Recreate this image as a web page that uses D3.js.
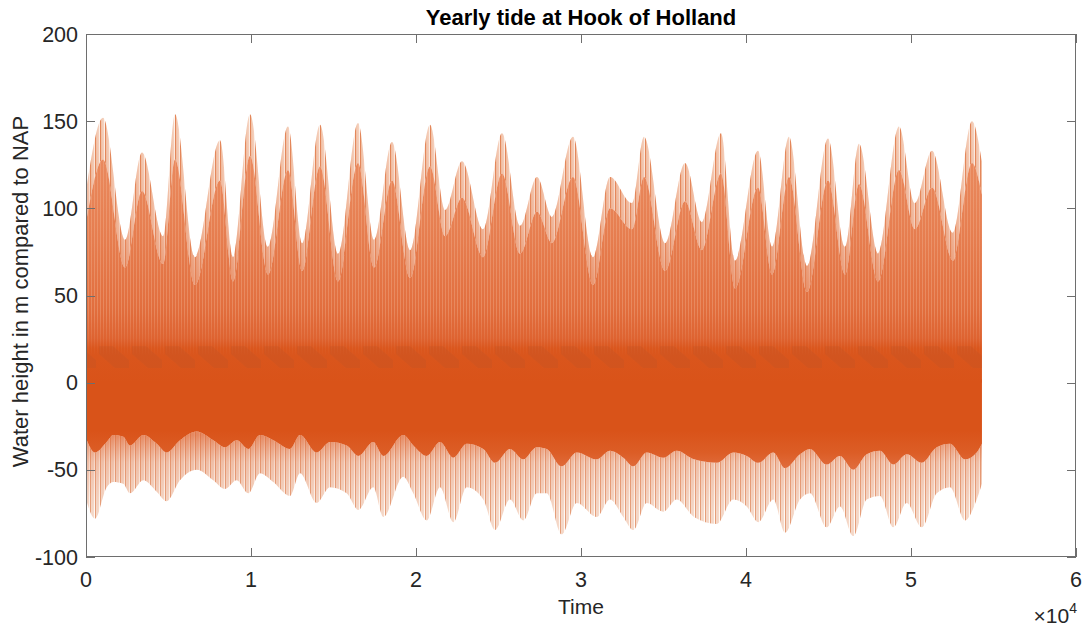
<!DOCTYPE html>
<html>
<head>
<meta charset="utf-8">
<script src="https://cdn.jsdelivr.net/npm/d3@7"></script>
<style>
  html, body { margin: 0; padding: 0; background: #ffffff; }
  svg { display: block; font-family: "Liberation Sans", Arial, Helvetica, sans-serif; }
</style>
</head>
<body>
<svg id="chart" width="1089" height="628"></svg>
<script>
// ---- Data (time in samples, water height) ----
// Upper envelope: spike tips (outer) and top of the dense fill (inner), at local extremes
const upT = [0, 1030, 2364, 3394, 4667, 5394, 6606, 8121, 8909, 9939, 11030, 12242, 13091, 14182, 15273, 16485, 17455, 18545, 19636, 20848, 21758, 22788, 24061, 25212, 26303, 27333, 28242, 29515, 30727, 31758, 33091, 33818, 35091, 36303, 37333, 38485, 39333, 40727, 41576, 42606, 43697, 44970, 46000, 46848, 48000, 49273, 50242, 51273, 52545, 53697, 54300];
const upOuter = [110, 152, 82, 132, 84, 154, 72, 139, 72, 154, 78, 147, 80, 148, 74, 149, 82, 138, 76, 148, 99, 127, 88, 143, 90, 118, 95, 141, 72, 118, 103, 141, 80, 126, 92, 143, 70, 133, 78, 141, 67, 140, 78, 137, 74, 147, 103, 133, 86, 150, 127];
const upInner = [92, 128, 66, 110, 68, 128, 56, 116, 58, 130, 62, 122, 64, 124, 58, 126, 66, 116, 60, 124, 84, 106, 72, 120, 74, 98, 80, 118, 56, 100, 88, 118, 64, 104, 76, 120, 54, 112, 62, 118, 52, 116, 62, 114, 58, 122, 88, 112, 70, 126, 108];

// Lower envelope: spike tips (outer) and bottom of the solid core (inner)
const lowT = [0, 545, 1255, 1655, 2260, 2667, 3473, 4285, 4891, 5697, 6709, 7715, 8424, 9133, 9836, 10545, 11352, 12364, 12970, 13982, 14788, 15800, 16503, 17412, 18018, 19230, 19836, 20648, 21455, 22261, 23073, 24079, 24788, 25697, 26503, 27315, 27921, 28830, 29739, 30952, 31758, 32564, 33170, 33982, 34988, 35800, 36848, 38224, 39230, 40042, 40745, 41655, 42364, 43273, 43879, 44891, 45697, 46503, 47315, 48121, 48927, 49739, 50648, 51558, 52364, 53273, 53982, 54300];
const lowOuter = [-67, -78, -60, -57, -58, -63.5, -56, -62.5, -68, -56, -50, -56, -61, -56, -63.5, -52, -57, -65, -52, -69, -60, -63.5, -73, -60, -77, -54, -63.5, -79, -60, -80, -60, -67, -84.5, -67, -79, -63.5, -63.5, -87, -69, -77, -67, -77, -84.5, -69, -74, -67, -77, -81, -67, -71, -80, -67, -86, -67, -63.5, -83, -71, -88, -67, -65, -83, -69, -83, -63.5, -60, -79, -67, -58];
const lowInner = [-32, -40, -34, -30, -31, -36, -30, -35, -40, -33, -28, -33, -37, -33, -38, -30, -33, -38, -30, -40, -34, -36, -42, -34, -42, -30, -36, -42, -34, -43, -35, -38, -46, -38, -44, -37, -38, -48, -40, -44, -39, -43, -48, -40, -43, -39, -44, -46, -40, -42, -46, -40, -49, -41, -38, -47, -42, -50, -41, -39, -47, -41, -46, -37, -35, -44, -40, -35];

// Axis ticks and labels
const xTicks = [0, 10000, 20000, 30000, 40000, 50000, 60000];
const xTickLabels = ["0", "1", "2", "3", "4", "5", "6"];
const yTicks = [-100, -50, 0, 50, 100, 150, 200];
const titleText = "Yearly tide at Hook of Holland";
const xLabelText = "Time";
const yLabelText = "Water height in m compared to NAP";

// ---- Drawing ----
const svg = d3.select("#chart");
const W = 1089, H = 628;
const L = 86, R = 1076, T = 34, B = 557;
const x = d3.scaleLinear().domain([0, 60000]).range([L, R]);
const y = d3.scaleLinear().domain([-100, 200]).range([B, T]);

svg.append("rect").attr("width", W).attr("height", H).attr("fill", "#ffffff");

const defs = svg.append("defs");
defs.append("clipPath").attr("id", "plotClip")
  .append("rect").attr("x", L).attr("y", T).attr("width", R - L).attr("height", B - T);

function stripePattern(id, width, stripes) {
  const p = defs.append("pattern").attr("id", id)
    .attr("patternUnits", "userSpaceOnUse").attr("width", width).attr("height", 8);
  stripes.forEach(([sx, sw, c, op]) => p.append("rect").attr("x", sx).attr("y", 0)
    .attr("width", sw).attr("height", 8).attr("fill", c).attr("opacity", op == null ? 1 : op));
}
// stripes for the upper spike band (white gaps between thin lines)
stripePattern("upSpikes", 5, [[0, 1, "#e3865a"], [1, 1, "#f2c5aa"], [2.5, 1, "#e89a72"], [3.5, 0.8, "#f6d6c3"]]);
// stripes for the lower spike band (paler)
stripePattern("lowSpikes", 5, [[0, 1, "#e59e7a"], [1, 0.8, "#f3d0bb"], [2.5, 1, "#e9ad8d"], [3.5, 0.7, "#f7ddcd"]]);
// light striations over the upper dense fill
stripePattern("striae", 3, [[1, 1, "#f7c2a4", 0.32]]);

// dark diagonal streaks in the core
const pStreak = defs.append("pattern").attr("id", "streaks")
  .attr("patternUnits", "userSpaceOnUse").attr("width", 33).attr("height", 40)
  .attr("y", y(21));
pStreak.append("polygon").attr("points", "0,0 14,0 30,14 30,22 16,22 0,8").attr("fill", "#b8532b").attr("opacity", 0.22);

function vGrad(id, vFrom, vTo, stops) {
  const g = defs.append("linearGradient").attr("id", id)
    .attr("gradientUnits", "userSpaceOnUse")
    .attr("x1", 0).attr("x2", 0).attr("y1", y(vFrom)).attr("y2", y(vTo));
  stops.forEach(([o, c, op]) => g.append("stop").attr("offset", o).attr("stop-color", c)
    .attr("stop-opacity", op == null ? 1 : op));
}
// upper dense fill: dark core fading into lighter orange
vGrad("upFill", 0, 150, [[0, "#d95319"], [0.13, "#da561d"], [0.17, "#de6331"], [0.3, "#e26f3f"], [0.55, "#e67d4f"], [0.8, "#e9875b"], [1, "#eb9066"]]);
// striation strength: none in the core, visible above it
vGrad("striaeMaskGrad", 15, 40, [[0, "#ffffff", 0], [1, "#ffffff", 1]]);
const mask = defs.append("mask").attr("id", "striaeMask")
  .attr("maskUnits", "userSpaceOnUse").attr("x", 0).attr("y", 0).attr("width", W).attr("height", H);
mask.append("rect").attr("x", 0).attr("y", 0).attr("width", W).attr("height", H).attr("fill", "url(#striaeMaskGrad)");
// soft transition from dense fill into the spike band
vGrad("upBlend", 50, 150, [[0, "#e57b4d", 0.75], [0.4, "#e8875c", 0.35], [1, "#eb9066", 0]]);
// lower core: dark fading into lighter at its edge
vGrad("lowFill", 0, -50, [[0, "#d95319"], [0.55, "#d95319"], [0.8, "#dc5d26"], [1, "#e16e3e"]]);
vGrad("lowBlend", -30, -75, [[0, "#df6836", 0.7], [0.35, "#e48358", 0.3], [1, "#e9a07e", 0]]);

const plot = svg.append("g").attr("clip-path", "url(#plotClip)");
const upData = upT.map((t, i) => ({ t, o: upOuter[i], n: upInner[i] }));
const lowData = lowT.map((t, i) => ({ t, o: lowOuter[i], n: lowInner[i] }));
const curve = d3.curveMonotoneX;

const upBand = d3.area().curve(curve).x(d => x(d.t)).y0(d => y(d.n)).y1(d => y(d.o));
const lowBand = d3.area().curve(curve).x(d => x(d.t)).y0(d => y(d.o)).y1(d => y(d.n));
// upper spike band
plot.append("path").datum(upData).attr("d", upBand).attr("fill", "url(#upSpikes)");
plot.append("path").datum(upData).attr("d", upBand).attr("fill", "url(#upBlend)");
// lower spike band
plot.append("path").datum(lowData).attr("d", lowBand).attr("fill", "url(#lowSpikes)");
plot.append("path").datum(lowData).attr("d", lowBand).attr("fill", "url(#lowBlend)");
// lower solid core (drawn first, overlapped slightly by the upper fill)
const lowCore = d3.area().curve(curve).x(d => x(d.t)).y0(d => y(d.n)).y1(y(2));
plot.append("path").datum(lowData).attr("d", lowCore).attr("fill", "url(#lowFill)");
// upper dense fill down to zero
const upFillArea = d3.area().curve(curve).x(d => x(d.t)).y0(y(0)).y1(d => y(d.n));
plot.append("path").datum(upData).attr("d", upFillArea).attr("fill", "url(#upFill)");
plot.append("path").datum(upData).attr("d", upFillArea).attr("fill", "url(#striae)").attr("mask", "url(#striaeMask)");
// dark streaks band
plot.append("rect")
  .attr("x", x(upT[0])).attr("width", x(upT[upT.length - 1]) - x(upT[0]))
  .attr("y", y(21)).attr("height", y(2) - y(21))
  .attr("fill", "url(#streaks)");

// ---- Axes box with MATLAB style inward ticks ----
const axisColor = "#6e6e6e";
const textColor = "#262626";
const ax = svg.append("g");
ax.append("rect").attr("x", L + 0.5).attr("y", T + 0.5).attr("width", R - L - 1).attr("height", B - T - 1)
  .attr("fill", "none").attr("stroke", axisColor).attr("stroke-width", 1);
const tickLen = 9;
xTicks.forEach(t => {
  const px = Math.round(x(t)) + 0.5;
  ax.append("line").attr("x1", px).attr("x2", px).attr("y1", B).attr("y2", B - tickLen).attr("stroke", axisColor);
  ax.append("line").attr("x1", px).attr("x2", px).attr("y1", T).attr("y2", T + tickLen).attr("stroke", axisColor);
});
yTicks.forEach(v => {
  const py = Math.round(y(v)) + 0.5;
  ax.append("line").attr("x1", L).attr("x2", L + tickLen).attr("y1", py).attr("y2", py).attr("stroke", axisColor);
  ax.append("line").attr("x1", R).attr("x2", R - tickLen).attr("y1", py).attr("y2", py).attr("stroke", axisColor);
});

// tick labels
svg.append("g").selectAll("text").data(xTicks).join("text")
  .attr("x", d => x(d)).attr("y", 587)
  .attr("text-anchor", "middle").attr("font-size", 21.5).attr("fill", textColor)
  .text((d, i) => xTickLabels[i]);
svg.append("g").selectAll("text").data(yTicks).join("text")
  .attr("x", 78).attr("y", d => y(d) + 7.5)
  .attr("text-anchor", "end").attr("font-size", 21.5).attr("fill", textColor)
  .text(d => d);

// exponent label
const ex = svg.append("text").attr("x", 1077).attr("y", 623)
  .attr("text-anchor", "end").attr("font-size", 21).attr("fill", textColor);
ex.append("tspan").text("\u00d710");
ex.append("tspan").attr("dy", -10).attr("font-size", 14).text("4");

// axis labels and title
svg.append("text").attr("x", (L + R) / 2).attr("y", 614)
  .attr("text-anchor", "middle").attr("font-size", 21).attr("fill", textColor).text(xLabelText);
svg.append("text").attr("transform", `translate(28, ${(T + B) / 2 - 4}) rotate(-90)`)
  .attr("text-anchor", "middle").attr("font-size", 22).attr("fill", textColor).text(yLabelText);
svg.append("text").attr("x", 581).attr("y", 25)
  .attr("text-anchor", "middle").attr("font-size", 22).attr("font-weight", "bold").attr("fill", "#000000").text(titleText);
</script>
</body>
</html>
